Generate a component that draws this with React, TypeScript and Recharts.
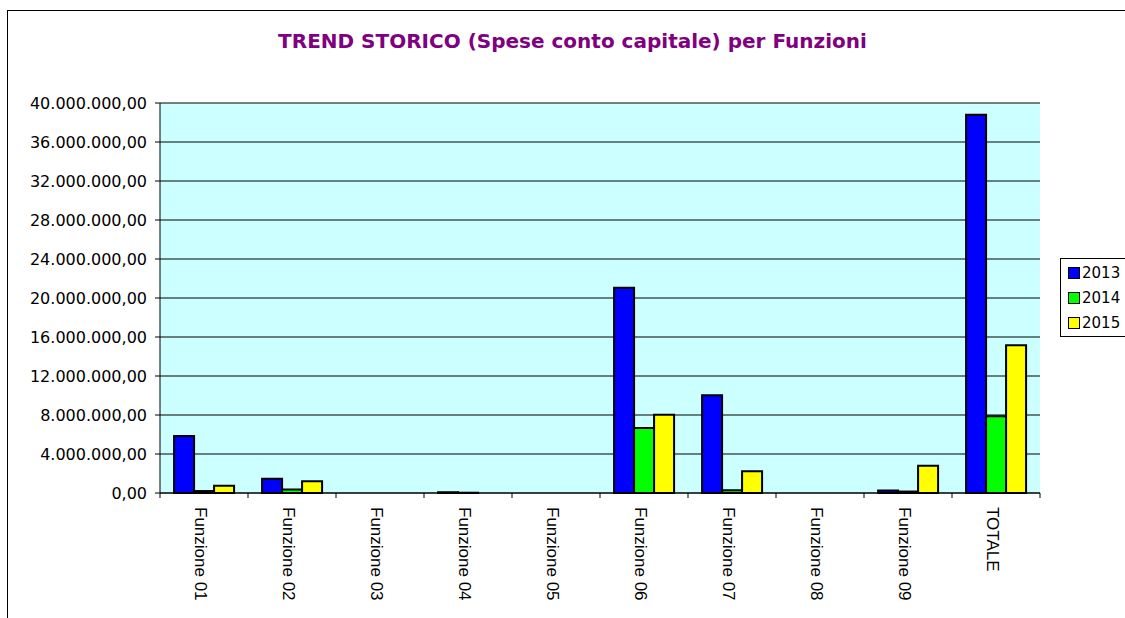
import { BarChart, Bar, XAxis, YAxis, CartesianGrid } from 'recharts';

const categories = [
    'Funzione 01', 'Funzione 02', 'Funzione 03', 'Funzione 04', 'Funzione 05',
    'Funzione 06', 'Funzione 07', 'Funzione 08', 'Funzione 09', 'TOTALE',
];
const values2013 = [5850000, 1450000, 0, 80000, 0, 21060000, 10020000, 0, 250000, 38800000];
const values2014 = [200000, 350000, 0, 30000, 0, 6670000, 280000, 0, 150000, 7870000];
const values2015 = [750000, 1200000, 0, 0, 0, 8030000, 2220000, 0, 2800000, 15150000];
const yTicks = [0, 4000000, 8000000, 12000000, 16000000, 20000000, 24000000, 28000000, 32000000, 36000000, 40000000];

const SERIES = [
    { key: 'y2013', name: '2013', color: '#0000FF' },
    { key: 'y2014', name: '2014', color: '#00FF00' },
    { key: 'y2015', name: '2015', color: '#FFFF00' },
];

const data = categories.map((name, i) => ({
    name,
    y2013: values2013[i],
    y2014: values2014[i],
    y2015: values2015[i],
}));

const PLOT_W = 880;
const BAND = PLOT_W / categories.length;

// 1234567 -> "1.234.567,00"
function formatIt(v: number) {
    const int = Math.round(v).toString().replace(/\B(?=(\d{3})+(?!\d))/g, '.');
    return int + ',00';
}

function CategoryTick(props: any) {
    const { x, y, payload, index } = props;
    const last = index === categories.length - 1;
    return (
        <g>
            <line x1={x - BAND / 2} y1={y} x2={x - BAND / 2} y2={y + 5} stroke="#000" />
            {last && <line x1={x + BAND / 2} y1={y} x2={x + BAND / 2} y2={y + 5} stroke="#000" />}
            <text
                x={x - 4}
                y={y + 14}
                transform={`rotate(90 ${x - 4} ${y + 14})`}
                textAnchor="start"
                dominantBaseline="central"
                fontFamily="'Liberation Sans', Arial, sans-serif"
                fontSize={17}
                fill="#000"
            >
                {payload.value}
            </text>
        </g>
    );
}

function LegendBox() {
    return (
        <div
            style={{
                position: 'absolute', left: 1060, top: 258,
                border: '1px solid #000',
                background: '#fff',
                width: 70,
                height: 79,
                boxSizing: 'border-box',
                padding: '1px 0 0 7px',
                fontFamily: "'DejaVu Sans', Verdana, sans-serif",
                fontSize: 15,
                color: '#000',
            }}
        >
            {SERIES.map(s => (
                <div key={s.key} style={{ display: 'flex', alignItems: 'center', height: 25 }}>
                    <span
                        style={{
                            display: 'inline-block',
                            width: 10,
                            height: 10,
                            background: s.color,
                            border: '1px solid #000',
                            marginRight: 2,
                        }}
                    />
                    {s.name}
                </div>
            ))}
        </div>
    );
}

export default function App() {
    return (
        <div style={{ position: 'absolute', left: 0, top: 0, width: 1125, height: 618, background: '#fff', overflow: 'hidden' }}>
            <div
                style={{
                    position: 'absolute', left: 7, top: 10, width: 1200, height: 700,
                    border: '1px solid #000',
                }}
            />
            <div
                style={{
                    position: 'absolute', left: 0, top: 29, width: 1145, textAlign: 'center',
                    fontFamily: "'DejaVu Sans', Verdana, sans-serif", fontWeight: 'bold',
                    fontSize: 20, color: '#800080',
                }}
            >
                TREND STORICO (Spese conto capitale) per Funzioni
            </div>
            <div style={{ position: 'absolute', left: 0, top: 0 }}>
                <BarChart
                    width={1125}
                    height={618}
                    data={data}
                    margin={{ top: 103, right: 85, bottom: 0, left: 0 }}
                    barCategoryGap="16%"
                    barGap={0}
                >
                    <CartesianGrid vertical={false} stroke="#000" fill="#CCFFFF" fillOpacity={1} />
                    <XAxis
                        dataKey="name"
                        interval={0}
                        tickLine={false}
                        tickSize={0}
                        tickMargin={0}
                        axisLine={{ stroke: '#000' }}
                        tick={<CategoryTick />}
                        height={125}
                    />
                    <XAxis xAxisId="top" orientation="top" dataKey="name" tick={false} tickLine={false} height={0} axisLine={{ stroke: '#808080', strokeWidth: 2 }} />
                    <YAxis
                        width={160}
                        domain={[0, 40000000]}
                        ticks={yTicks}
                        interval={0}
                        tickSize={5}
                        tickMargin={8}
                        axisLine={{ stroke: '#000' }}
                        tickLine={{ stroke: '#000' }}
                        tickFormatter={formatIt}
                        tick={{ fill: '#000', fontSize: 16, fontFamily: "'DejaVu Sans', Verdana, sans-serif" }}
                    />
                    <YAxis yAxisId="right" orientation="right" domain={[0, 40000000]} width={0} tick={false} tickLine={false} axisLine={{ stroke: '#808080', strokeWidth: 2 }} />
                    {SERIES.map(s => (
                        <Bar
                            key={s.key}
                            dataKey={s.key}
                            name={s.name}
                            fill={s.color}
                            stroke="#000"
                            strokeWidth={2}
                            isAnimationActive={false}
                        />
                    ))}
                </BarChart>
            </div>
            <LegendBox />
        </div>
    );
}
